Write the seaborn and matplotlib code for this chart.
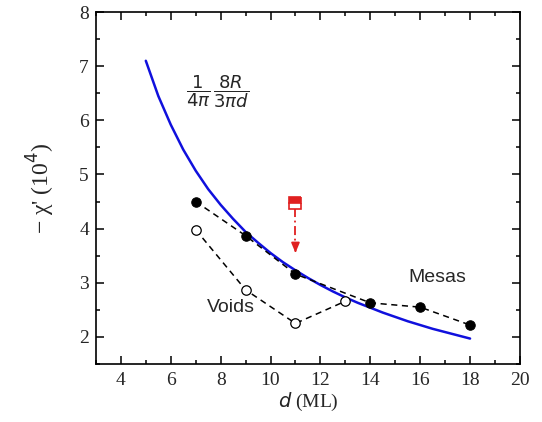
import matplotlib
matplotlib.use("Agg")
import matplotlib.pyplot as plt
import seaborn as sns
import pandas as pd
from matplotlib.ticker import MultipleLocator

# Data
mesas_d = [7, 9, 11, 14, 16, 18]
mesas_chi = [4.50, 3.87, 3.16, 2.63, 2.55, 2.22]

voids_d = [7, 9, 11, 13]
voids_chi = [3.98, 2.87, 2.25, 2.66]

theory_d = [5, 5.5, 6, 6.5, 7, 7.5, 8, 8.5, 9, 9.5, 10, 10.5, 11, 11.5, 12,
            12.5, 13, 13.5, 14, 14.5, 15, 15.5, 16, 16.5, 17, 17.5, 18]
theory_chi = [7.10, 6.45, 5.92, 5.46, 5.07, 4.73, 4.44, 4.18, 3.94, 3.74, 3.55,
              3.38, 3.23, 3.09, 2.96, 2.84, 2.73, 2.63, 2.54, 2.45, 2.37, 2.29,
              2.22, 2.15, 2.09, 2.03, 1.97]

red_d = [11]
red_chi = [4.48]
arrow_end = 3.50

sns.set_style("ticks")
plt.rcParams['font.family'] = ['Liberation Serif', 'DejaVu Serif']
plt.rcParams['mathtext.fontset'] = 'dejavusans'

fig = plt.figure(figsize=(5.42, 4.22), dpi=100)
ax = fig.add_axes([0.177, 0.1374, 0.7823, 0.8341])

df_t = pd.DataFrame({"d": theory_d, "chi": theory_chi})
df_m = pd.DataFrame({"d": mesas_d, "chi": mesas_chi})
df_v = pd.DataFrame({"d": voids_d, "chi": voids_chi})

sns.lineplot(data=df_t, x="d", y="chi", ax=ax, color="#1010dd", lw=1.8)
sns.lineplot(data=df_m, x="d", y="chi", ax=ax, color="black", lw=1.1,
             linestyle=(0, (4, 3)), marker="o", markersize=6.8,
             markerfacecolor="black", markeredgecolor="black")
sns.lineplot(data=df_v, x="d", y="chi", ax=ax, color="black", lw=1.1,
             linestyle=(0, (4, 3)), marker="o", markersize=6.8,
             markerfacecolor="white", markeredgecolor="black", markeredgewidth=0.9)

# red arrow
ax.plot([red_d[0], red_d[0]], [red_chi[0] - 0.1, arrow_end + 0.12], color="#e02020",
        lw=1.3, linestyle=(0, (5, 2, 1, 2)))
ax.annotate("", xy=(red_d[0], arrow_end), xytext=(red_d[0], arrow_end + 0.16),
            arrowprops=dict(arrowstyle="-|>,head_width=0.25,head_length=0.6",
                            color="#e02020", lw=1.2))
ax.plot(red_d, red_chi, marker="s", markersize=8, color="#e02020",
        fillstyle="top", markerfacecoloralt="white", markeredgecolor="#e02020",
        markeredgewidth=1.2, linestyle="none")

ax.set_xlim(3, 20)
ax.set_ylim(1.5, 8)
ax.xaxis.set_minor_locator(MultipleLocator(1))
ax.yaxis.set_major_locator(MultipleLocator(1))
ax.yaxis.set_minor_locator(MultipleLocator(0.5))
ax.set_xticks([4, 6, 8, 10, 12, 14, 16, 18, 20])
ax.set_yticks([2, 3, 4, 5, 6, 7, 8])
ax.tick_params(which="both", direction="in", top=True, right=True, width=1.1,
               labelsize=14, color="black")
ax.tick_params(which="major", length=6)
ax.tick_params(which="minor", length=3)
ax.tick_params(axis="x", which="major", pad=6)
ax.tick_params(axis="y", which="major", pad=5)
for s in ax.spines.values():
    s.set_linewidth(1.2)
    s.set_color("black")

ax.set_xlabel(r"$\it{d}$ (ML)", fontsize=14, labelpad=1)
ax.set_ylabel("− χ' (10$^4$)", fontsize=17, labelpad=16)

ax.text(8.4, 2.55, "Voids", fontsize=14, family="Liberation Sans", ha="center", va="center")
ax.text(16.7, 3.1, "Mesas", fontsize=14, family="Liberation Sans", ha="center", va="center")
ax.text(6.6, 6.52, r"$\dfrac{1}{4\pi}\,\dfrac{8R}{3\pi d}$", fontsize=13, ha="left", va="center")

fig.savefig("out.png", dpi=100)
